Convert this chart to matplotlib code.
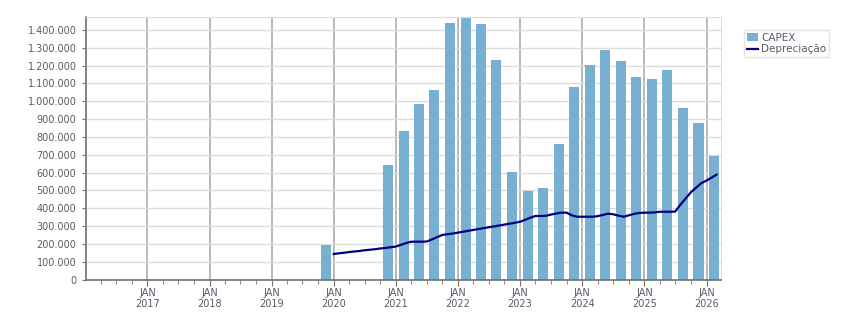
import numpy as np
import pandas as pd
import matplotlib
matplotlib.use('Agg')
import matplotlib.pyplot as plt
import matplotlib.dates as mdates
from matplotlib.ticker import FuncFormatter, MultipleLocator

# quarterly CAPEX, bars centred mid-quarter
capex_dates = ['2019-11-15',
               '2020-11-15',
               '2021-02-15', '2021-05-15', '2021-08-15', '2021-11-15',
               '2022-02-15', '2022-05-15', '2022-08-15', '2022-11-15',
               '2023-02-15', '2023-05-15', '2023-08-15', '2023-11-15',
               '2024-02-15', '2024-05-15', '2024-08-15', '2024-11-15',
               '2025-02-15', '2025-05-15', '2025-08-15', '2025-11-15',
               '2026-02-15']
capex = [195000,
         643000,
         833000, 985000, 1063000, 1439000,
         1467000, 1434000, 1232000, 603000,
         497000, 513000, 760000, 1080000,
         1204000, 1288000, 1226000, 1136000,
         1125000, 1176000, 962000, 878000,
         695000]

# monthly depreciation, Jan 2020 .. Mar 2026
dep_start = '2020-01-01'
depreciacao = [143000, 147000, 150000, 154000, 157000, 160000, 164000, 167000, 170000, 174000, 177000, 181000,
               185000, 195000, 204000, 212000, 212000, 212000, 213000, 225000, 238000, 250000, 254000, 258000,
               263000, 268000, 273000, 278000, 283000, 288000, 293000, 298000, 303000, 308000, 313000, 318000,
               324000, 335000, 346000, 356000, 356000, 357000, 364000, 370000, 375000, 375000, 360000, 352000,
               352000, 352000, 352000, 355000, 362000, 369000, 366000, 358000, 352000, 360000, 368000, 373000,
               375000, 375000, 376000, 380000, 380000, 380000, 381000, 420000, 455000, 489000, 515000, 540000,
               555000, 572000, 588000]

capex_x = pd.to_datetime(capex_dates)
dep_x = pd.date_range(dep_start, periods=len(depreciacao), freq='MS')

fig = plt.figure(figsize=(8.51, 3.13), dpi=100)
ax = fig.add_axes([0.1005, 0.107, 0.7465, 0.8387])

bars = ax.bar(capex_x, capex, width=59, color='#78b0d2', label='CAPEX', zorder=2)
line, = ax.plot(dep_x, depreciacao, color='#000080', lw=1.6, label='Depreciação', zorder=3)

ax.set_xlim(pd.Timestamp('2016-01-03'), pd.Timestamp('2026-03-26'))
ax.set_ylim(0, 1472000)

ax.yaxis.set_major_locator(MultipleLocator(100000))
ax.yaxis.set_major_formatter(FuncFormatter(lambda v, p: f'{int(v):,}'.replace(',', '.')))
ax.xaxis.set_major_locator(mdates.YearLocator())
ax.xaxis.set_minor_locator(mdates.MonthLocator(bymonth=[4, 7, 10]))
ax.xaxis.set_major_formatter(mdates.DateFormatter('JAN\n%Y'))

ax.grid(axis='y', color='#dcdcdc', lw=1, zorder=0)
ax.grid(axis='x', which='major', color='#b4b4b4', lw=1.3, zorder=1)

for s in ['top', 'right']:
    ax.spines[s].set_color('#dcdcdc')
for s in ['left', 'bottom']:
    ax.spines[s].set_color('#707070')
    ax.spines[s].set_linewidth(1.2)

ax.tick_params(axis='both', which='both', colors='#707070', labelcolor='#5a5a6a', labelsize=7, length=3)
ax.tick_params(axis='x', which='major', length=4, pad=2)

leg = ax.legend([bars, line], ['CAPEX', 'Depreciação'], loc='upper left', bbox_to_anchor=(1.037, 0.952),
                fontsize=7.5, frameon=True, fancybox=False,
                borderpad=0.3, handlelength=1.0, handletextpad=0.3, labelspacing=0.15, borderaxespad=0)
leg.get_frame().set_edgecolor('#dcdcdc')
leg.get_frame().set_linewidth(1)
for t in leg.get_texts():
    t.set_color('#5a5a6a')

fig.savefig('out.png', dpi=100)
